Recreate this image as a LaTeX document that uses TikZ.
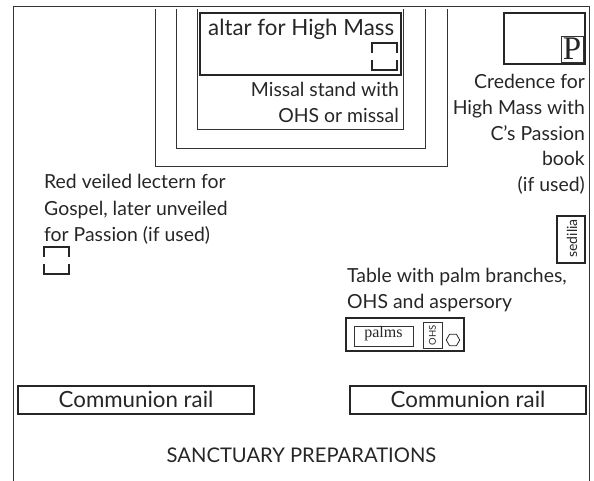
\documentclass[tikz,border=0pt]{standalone}
\usepackage{fontspec}
\setmainfont{Lato}
\newfontfamily\serifx{Liberation Serif}
\usetikzlibrary{shapes.geometric}
\tikzset{
 thin line/.style={draw=black!80,line width=0.9pt},
 thick box/.style={draw=black!85,line width=1.9pt},
 lbl/.style={inner sep=0pt,text=black!85,font=\fontsize{19.4}{24.5}\selectfont},
 title lbl/.style={inner sep=0pt,text=black!85,font=\fontsize{20.2}{24.5}\selectfont},
 big lbl/.style={inner sep=0pt,text=black!85,font=\fontsize{22.3}{24.5}\selectfont},
 rail/.style={thick box,minimum width=236pt,minimum height=28pt,inner sep=0pt},
 bracket/.style={draw=black!85,line width=1.6pt}
}
\begin{document}
\begin{tikzpicture}[x=1pt,y=-1pt]
\useasboundingbox (0,0) rectangle (594,481);
% frame
\draw[thin line] (13,481) -- (13,6.5) -- (589,6.5) -- (589,481);
% nested sanctuary
\draw[thin line] (155,9) -- (155,166) -- (447,166) -- (447,9);
\draw[thin line] (176,9) -- (176,148) -- (425,148) -- (425,9);
\draw[thin line] (197,9) -- (197,129) -- (403,129) -- (403,9);
% altar
\node[thick box,minimum width=201pt,minimum height=62pt,inner sep=0pt] (altar) at (300.5,44) {};
\node[big lbl,anchor=base west] (altarT) at (208,36) {altar for High Mass};
\draw[bracket] (372,53) -- (372,43) -- (397,43) -- (397,53);
\draw[bracket] (372,60) -- (372,70) -- (397,70) -- (397,60);
\node[lbl,anchor=base east] (m1) at (399,97) {Missal stand with};
\node[lbl,anchor=base east] (m2) at (399,123) {OHS or missal};
% credence
\node[thick box,minimum width=81pt,minimum height=51pt,inner sep=0pt] (cred) at (544.5,38.5) {};
\node[draw=black!80,line width=.7pt,minimum width=22pt,minimum height=26pt,inner sep=0pt,font=\serifx\fontsize{33}{33}\selectfont,text=black!85] (pbox) at (572,49) {P};
\node[lbl,anchor=base east] (c1) at (585,89) {Credence for};
\node[lbl,anchor=base east] (c2) at (585,115) {High Mass with};
\node[lbl,anchor=base east] (c3) at (585,141) {C’s Passion};
\node[lbl,anchor=base east] (c4) at (585,166) {book};
\node[lbl,anchor=base east] (c5) at (585,192) {(if used)};
% sedilia
\node[thick box,minimum width=28pt,minimum height=47pt,inner sep=0pt] (sed) at (571,239.5) {};
\node[rotate=90,inner sep=0pt,text=black!85,font=\fontsize{14}{14}\selectfont] (sedT) at (572,238.5) {sedilia};
% lectern
\node[lbl,anchor=base west] (l1) at (44,189) {Red veiled lectern for};
\node[lbl,anchor=base west] (l2) at (44,215) {Gospel, later unveiled};
\node[lbl,anchor=base west] (l3) at (44,241) {for Passion (if used)};
\draw[bracket] (44,257) -- (44,247) -- (69,247) -- (69,257);
\draw[bracket] (44,264) -- (44,274) -- (69,274) -- (69,264);
% table
\node[lbl,anchor=base west] (t1) at (347,282) {Table with palm branches,};
\node[lbl,anchor=base west] (t2) at (347,308) {OHS and aspersory};
\node[thick box,minimum width=118pt,minimum height=33pt,inner sep=0pt] (table) at (405,334.5) {};
\node[draw=black!80,line width=.7pt,minimum width=59pt,minimum height=20pt,inner sep=0pt] (palms) at (383.5,336) {};
\node[inner sep=0pt,font=\serifx\fontsize{16}{16}\selectfont,text=black!85] (palmsT) at (383.5,334) {palms};
\node[draw=black!80,line width=.8pt,minimum width=19pt,minimum height=26pt,inner sep=0pt] (ohsb) at (432.5,335) {};
\node[rotate=90,inner sep=0pt,text=black!85,font=\fontsize{9.5}{9.5}\selectfont] (ohs) at (432.5,335) {OHS};
\node[draw=black!85,line width=.8pt,regular polygon,regular polygon sides=6,minimum size=13.5pt,inner sep=0pt] (asp) at (453,340) {};
% rails
\node[rail] (r1) at (136,400) {};
\node[big lbl,anchor=base] (r1T) at (r1.center |- 0,407) {Communion rail};
\node[rail] (r2) at (468,400) {};
\node[big lbl,anchor=base] (r2T) at (r2.center |- 0,407) {Communion rail};
\node[title lbl,anchor=base] (title) at (301.5,462) {SANCTUARY PREPARATIONS};
\end{tikzpicture}
\end{document}
